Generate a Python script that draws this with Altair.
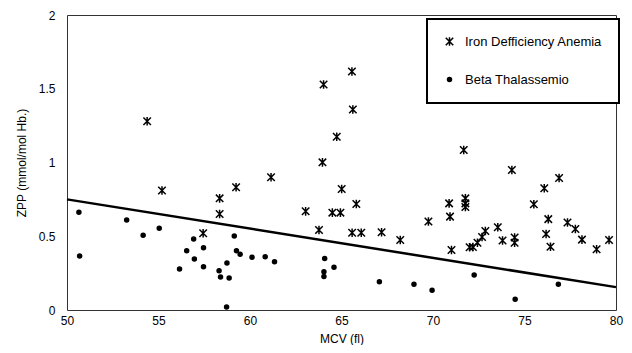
import altair as alt
import pandas as pd

series_names = ["Iron Defficiency Anemia", "Beta Thalassemio"]

ida_mcv = [54.38, 55.19, 58.34, 58.34, 57.44, 59.24, 61.15, 63.04, 63.77, 63.96,
           64.02, 64.74, 64.50, 64.94, 65.01, 65.57, 65.62, 65.81, 65.58, 66.08,
           67.19, 68.21, 69.75, 70.88, 70.93, 71.01, 71.68, 71.77, 71.77, 71.77,
           72.00, 72.18, 72.43, 72.68, 72.86, 73.54, 73.80, 74.46, 74.46, 74.31,
           75.51, 76.08, 76.89, 76.30, 76.18, 76.42, 77.35, 77.78, 78.14, 78.94,
           79.62]
ida_zpp = [1.28, 0.81, 0.757, 0.651, 0.52, 0.832, 0.90, 0.669, 0.542, 1.001,
           1.529, 1.175, 0.660, 0.660, 0.820, 1.617, 1.359, 0.719, 0.524, 0.524,
           0.527, 0.475, 0.600, 0.723, 0.633, 0.407, 1.085, 0.757, 0.723, 0.698,
           0.425, 0.427, 0.456, 0.495, 0.536, 0.561, 0.471, 0.492, 0.456, 0.949,
           0.717, 0.825, 0.895, 0.616, 0.515, 0.429, 0.593, 0.549, 0.477, 0.412,
           0.475]

bt_mcv = [50.65, 50.69, 53.26, 54.16, 55.04, 56.15, 56.54, 56.92, 56.96, 57.46,
          57.46, 58.31, 58.39, 58.74, 58.86, 58.72, 59.14, 59.26, 59.46, 60.11,
          60.83, 61.34, 64.08, 64.59, 64.04, 64.04, 67.07, 68.96, 69.95, 72.25,
          74.49, 76.85]
bt_zpp = [0.662, 0.366, 0.610, 0.506, 0.554, 0.278, 0.402, 0.481, 0.346, 0.422,
          0.294, 0.266, 0.224, 0.319, 0.217, 0.020, 0.502, 0.402, 0.378, 0.357,
          0.361, 0.327, 0.349, 0.289, 0.260, 0.227, 0.192, 0.175, 0.134, 0.237,
          0.073, 0.175]

fit_mcv = [50, 80]
fit_zpp = [0.75, 0.155]

x_ticks = [50, 55, 60, 65, 70, 75, 80]
y_ticks = [0, 0.5, 1, 1.5, 2]

df = pd.DataFrame({
    "MCV": ida_mcv + bt_mcv,
    "ZPP": ida_zpp + bt_zpp,
    "Group": [series_names[0]] * len(ida_mcv) + [series_names[1]] * len(bt_mcv),
})
fit_df = pd.DataFrame({"MCV": fit_mcv, "ZPP": fit_zpp})

star = "M-1,-1L1,1M-1,1L1,-1M0,-1.15L0,1.15"

x_scale = alt.Scale(domain=[50, 80], nice=False, zero=False)
y_scale = alt.Scale(domain=[0, 2], nice=False, zero=False)

x_axis = alt.Axis(values=x_ticks, title="MCV (fl)", grid=False, ticks=False, domain=False,
                  labelPadding=5, titlePadding=7, labelFlush=False)
y_axis = alt.Axis(values=y_ticks, title="ZPP (mmol/mol Hb.)", grid=False, ticks=False,
                  domain=False, labelPadding=12, titlePadding=10, format=".2~f")

leg = alt.Legend(title=None, symbolStrokeWidth=1.5)
black2 = alt.Scale(domain=series_names, range=["black", "black"])

points = alt.Chart(df).mark_point(
    filled=True, strokeWidth=1.5, opacity=1
).encode(
    x=alt.X("MCV:Q", scale=x_scale, axis=x_axis),
    y=alt.Y("ZPP:Q", scale=y_scale, axis=y_axis),
    shape=alt.Shape("Group:N", scale=alt.Scale(domain=series_names, range=[star, "circle"]),
                    legend=leg),
    size=alt.Size("Group:N", scale=alt.Scale(domain=series_names, range=[56, 16]),
                  legend=leg),
    fill=alt.Fill("Group:N", scale=black2, legend=leg),
    stroke=alt.Stroke("Group:N", scale=black2, legend=leg),
)

line = alt.Chart(fit_df).mark_line(color="black", strokeWidth=2.5).encode(
    x=alt.X("MCV:Q", scale=x_scale),
    y=alt.Y("ZPP:Q", scale=y_scale),
)

chart = alt.layer(points, line).properties(
    width=549,
    height=295,
    padding={"left": 59, "top": 7, "right": 8, "bottom": 35},
    autosize=alt.AutoSizeParams(type="none"),
).configure(
    font="Liberation Sans"
).configure_view(
    stroke="#333333", strokeWidth=1
).configure_axis(
    labelFontSize=12, titleFontSize=12, labelColor="black", titleColor="black",
    titleFontWeight="normal"
).configure_legend(
    orient="none", legendX=360, legendY=4, strokeColor="black", strokeWidth=2,
    padding=16, rowPadding=24, labelFontSize=13, labelColor="black", labelLimit=300,
    labelOffset=9, fillColor="white", symbolStrokeWidth=1.5
)

chart.save("out.html", embed_options={"renderer": "svg", "actions": False})
